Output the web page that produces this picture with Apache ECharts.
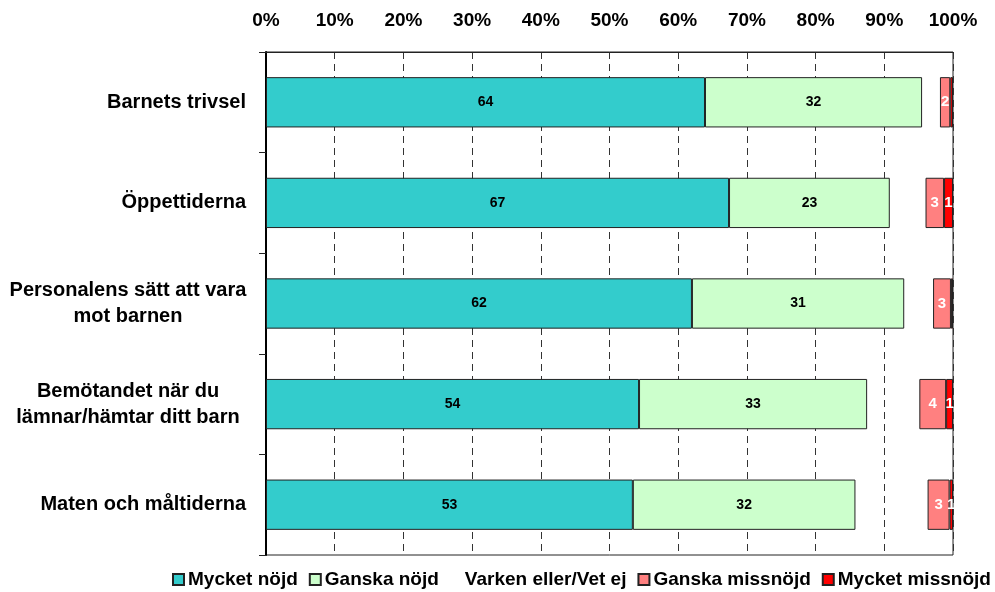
<!DOCTYPE html>
<html>
<head>
<meta charset="utf-8">
<script src="https://cdn.jsdelivr.net/npm/echarts@6/dist/echarts.min.js"></script>
<style>
html,body{margin:0;padding:0;background:#fff;}
#chart{width:995px;height:592px;}
</style>
</head>
<body>
<div id="chart"></div>
<script>
var categories = [
  'Barnets trivsel',
  'Öppettiderna',
  'Personalens sätt att vara\nmot barnen',
  'Bemötandet när du\nlämnar/hämtar ditt barn',
  'Maten och måltiderna'
];
var seriesNames = ['Mycket nöjd', 'Ganska nöjd', 'Varken eller/Vet ej', 'Ganska missnöjd', 'Mycket missnöjd'];
var mycketNojd = [63.9, 67.4, 62.0, 54.3, 53.4];
var ganskaNojd = [31.6, 23.4, 30.9, 33.2, 32.4];
var varkenEller = [2.6, 5.2, 4.2, 7.6, 10.5];
var ganskaMissnojd = [1.5, 2.7, 2.6, 3.9, 3.2];
var mycketMissnojd = [0.4, 1.3, 0.3, 1.0, 0.5];
var tickLabels = ['0%', '10%', '20%', '30%', '40%', '50%', '60%', '70%', '80%', '90%', '100%'];

var values = [mycketNojd, ganskaNojd, varkenEller, ganskaMissnojd, mycketMissnojd];
var colors = ['#33CCCC', '#CCFFCC', 'rgba(255,255,255,0)', '#FF8080', '#FF0000'];
var labelColors = ['#000', '#000', '#000', '#fff', '#fff'];
var labelSizes = [14, 14, 14, 15, 15];
var FONT = 'Liberation Sans, Arial, sans-serif';

var chart = echarts.init(document.getElementById('chart'), null, {renderer: 'canvas'});

var series = seriesNames.map(function (name, i) {
  return {
    name: name,
    type: 'bar',
    stack: 'total',
    barWidth: '50%',
    data: values[i],
    itemStyle: {
      color: colors[i],
      borderColor: i === 2 ? 'rgba(0,0,0,0)' : '#222',
      borderWidth: i === 2 ? 0 : 1
    },
    label: {
      show: i !== 2,
      position: 'inside',
      color: labelColors[i],
      fontFamily: FONT,
      fontWeight: 'bold',
      fontSize: labelSizes[i],
      formatter: function (p) {
        var r = Math.round(p.value);
        return r >= 1 ? String(r) : '';
      }
    },
    emphasis: {disabled: true}
  };
});

chart.setOption({
  animation: false,
  backgroundColor: '#fff',
  textStyle: {fontFamily: FONT},
  grid: {
    left: 266, right: 42, top: 52, bottom: 37,
    show: true, borderColor: '#222', borderWidth: 1, backgroundColor: 'transparent'
  },
  legend: {
    data: seriesNames,
    bottom: 3,
    left: 172,
    width: 823,
    padding: 0,
    itemWidth: 11,
    itemHeight: 11,
    itemGap: 11,
    icon: 'rect',
    textStyle: {
      fontFamily: FONT,
      fontWeight: 'bold',
      fontSize: 19,
      color: '#000',
      padding: [0, 0, 0, -1]
    }
  },
  xAxis: {
    type: 'value',
    position: 'top',
    min: 0, max: 100, interval: 10,
    axisLine: {show: true, lineStyle: {color: '#222', width: 1}},
    axisTick: {show: false},
    splitLine: {show: true, lineStyle: {color: '#333', type: [7, 5], width: 1}},
    axisLabel: {
      margin: 22,
      color: '#000',
      fontWeight: 'bold',
      fontSize: 19,
      fontFamily: FONT,
      formatter: function (v) { return tickLabels[Math.round(v / 10)]; }
    }
  },
  yAxis: {
    type: 'category',
    inverse: true,
    data: categories,
    axisLine: {show: true, lineStyle: {color: '#000', width: 2}},
    axisTick: {show: true, length: 7, lineStyle: {color: '#222'}},
    axisLabel: {
      margin: 20,
      color: '#000',
      fontWeight: 'bold',
      fontSize: 20,
      lineHeight: 26,
      fontFamily: FONT,
      formatter: function (v) {
        var lines = v.split('\n');
        if (lines.length === 1) return v;
        return lines.map(function (l) { return '{c|' + l + '}'; }).join('\n');
      },
      rich: {
        c: {
          width: 236,
          align: 'center',
          fontWeight: 'bold',
          fontSize: 20,
          lineHeight: 26,
          color: '#000',
          fontFamily: FONT
        }
      }
    }
  },
  series: series
});
</script>
</body>
</html>
